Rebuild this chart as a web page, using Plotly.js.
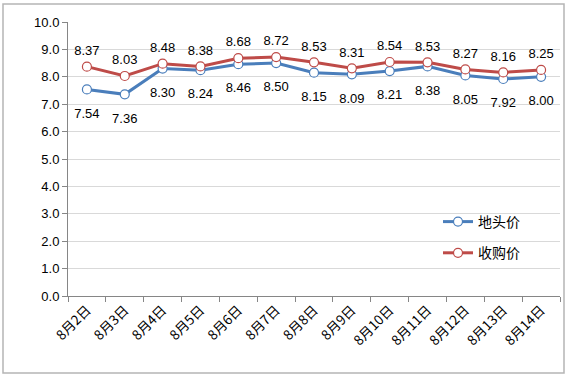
<!DOCTYPE html>
<html>
<head>
<meta charset="utf-8">
<script src="https://cdn.plot.ly/plotly-3.0.1.min.js"></script>
<style>html,body{margin:0;padding:0;background:#fff;}#chart{width:573px;height:378px;}</style>
</head>
<body>
<div id="chart"></div>
<script>
const categories = ["8月2日","8月3日","8月4日","8月5日","8月6日","8月7日","8月8日","8月9日","8月10日","8月11日","8月12日","8月13日","8月14日"];
const fieldPrice = [7.54,7.36,8.30,8.24,8.46,8.50,8.15,8.09,8.21,8.38,8.05,7.92,8.00];
const purchasePrice = [8.37,8.03,8.48,8.38,8.68,8.72,8.53,8.31,8.54,8.53,8.27,8.16,8.25];
const seriesNames = ["地头价","收购价"];
const yTicks = [0,1,2,3,4,5,6,7,8,9,10];

const font = "Liberation Sans, Arial, sans-serif";
const cjk = "Noto Sans CJK SC, sans-serif";
const line = (name, y, color) => ({
  x: categories, y: y, name: name, type: "scatter", mode: "lines+markers",
  legendgroup: name,
  line: {color: color, width: 3},
  marker: {symbol: "circle", size: 9, color: "#fff", line: {color: color, width: 1.2}},
  cliponaxis: false
});
const labels = (y, pos, size) => ({
  x: categories, y: y, type: "scatter", mode: "markers+text", showlegend: false, hoverinfo: "skip",
  text: y.map(v => v.toFixed(2)), textposition: pos,
  textfont: {family: font, size: 13, color: "#000"},
  marker: {size: size, color: "rgba(0,0,0,0)"}, cliponaxis: false
});
const data = [
  line(seriesNames[0], fieldPrice, "#4A7EBB"),
  line(seriesNames[1], purchasePrice, "#BE4B48"),
  labels(fieldPrice, "bottom center", 28),
  labels(purchasePrice, "top center", 12)
];
const layout = {
  width: 573, height: 378,
  margin: {l: 68, r: 13, t: 22, b: 82},
  paper_bgcolor: "#fff", plot_bgcolor: "#fff",
  showlegend: true,
  legend: {x: (438-68)/492, y: (296-206)/274, xanchor: "left", yanchor: "top", bgcolor: "rgba(0,0,0,0)",
    font: {family: cjk, size: 14, color: "#000"}, tracegroupgap: 10},
  xaxis: {type: "category", range: [-0.5, categories.length - 0.5], tickson: "boundaries", ticks: "outside", ticklen: 5, tickcolor: "#868686",
    showline: true, linecolor: "#868686", linewidth: 1, showgrid: false, tickangle: -45,
    tickfont: {family: cjk, size: 13.5, color: "#000"}, fixedrange: true},
  yaxis: {range: [0, 10], tickvals: yTicks, ticktext: yTicks.map(v => v.toFixed(1)),
    ticks: "outside", ticklen: 5, tickcolor: "#868686", showline: true, linecolor: "#868686", linewidth: 1,
    gridcolor: "#d9d9d9", gridwidth: 1, zeroline: false,
    tickfont: {family: font, size: 13, color: "#000"}, fixedrange: true},
  shapes: [{type: "rect", xref: "paper", yref: "paper", layer: "below",
    x0: (3-68)/492, x1: (564-68)/492, y0: (296-373)/274, y1: (296-4)/274,
    line: {color: "#b5b5b5", width: 1.5}}]
};
Plotly.newPlot("chart", data, layout, {displayModeBar: false, staticPlot: true});
</script>
</body>
</html>
